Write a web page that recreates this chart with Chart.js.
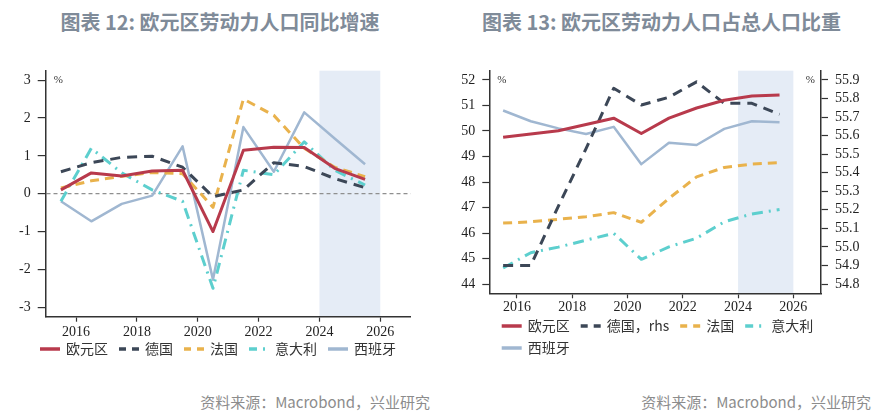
<!DOCTYPE html>
<html>
<head>
<meta charset="utf-8">
<script src="https://cdn.jsdelivr.net/npm/chart.js@4.4.1/dist/chart.umd.min.js"></script>
<style>
  body { margin: 0; background: #fff; width: 882px; height: 417px; position: relative; overflow: hidden;
         font-family: "Noto Sans CJK SC", "Noto Sans", sans-serif; }
  .title { position: absolute; top: 8px; height: 28px; line-height: 28px; font-size: 20px; font-weight: bold;
           color: #7f8b99; text-align: center; white-space: nowrap; }
  .source { position: absolute; top: 391px; font-size: 15px; line-height: 22px; color: #8c8c8c;
            text-align: right; white-space: nowrap; }
  canvas { position: absolute; top: 40px; }
</style>
</head>
<body>
<div class="title" style="left:0;width:440px">图表 12: 欧元区劳动力人口同比增速</div>
<div class="title" style="left:441px;width:441px">图表 13: 欧元区劳动力人口占总人口比重</div>
<canvas id="growthChart" width="440" height="330" style="left:0"></canvas>
<canvas id="shareChart" width="441" height="330" style="left:441px"></canvas>
<div class="source" style="left:0;width:430px">资料来源：Macrobond，兴业研究</div>
<div class="source" style="left:441px;width:430px">资料来源：Macrobond，兴业研究</div>

<script>
// ==============================
// データ
// ==============================
const YEARS = [2015.5, 2016.5, 2017.5, 2018.5, 2019.5, 2020.5, 2021.5, 2022.5, 2023.5, 2024.5, 2025.5];
const X_TICKS = [2016, 2018, 2020, 2022, 2024, 2026];
const FORECAST = [2024, 2026];

// 图表12 劳动力人口同比 (%)
const EA_GROWTH = [0.1, 0.55, 0.47, 0.6, 0.62, -1.0, 1.15, 1.23, 1.22, 0.67, 0.38];
const DE_GROWTH = [0.58, 0.82, 0.96, 0.99, 0.7, -0.08, 0.1, 0.82, 0.72, 0.4, 0.16];
const FR_GROWTH = [0.15, 0.34, 0.46, 0.56, 0.53, -0.36, 2.5, 2.07, 1.2, 0.7, 0.45];
const IT_GROWTH = [-0.2, 1.2, 0.55, 0.1, -0.2, -2.5, 0.62, 0.5, 1.37, 0.62, 0.23];
const ES_GROWTH = [-0.2, -0.73, -0.27, -0.05, 1.25, -2.27, 1.76, 0.58, 2.15, 1.46, 0.78];
const GROWTH_TICKS = [-3, -2, -1, 0, 1, 2, 3];

// 图表13 劳动力人口占总人口比重 (%)
const EA_SHARE = [49.75, 49.88, 50.01, 50.25, 50.5, 49.9, 50.5, 50.9, 51.2, 51.37, 51.41];
const DE_SHARE = [54.9, 54.9, 55.22, 55.53, 55.855, 55.765, 55.807, 55.89, 55.774, 55.774, 55.715];
const FR_SHARE = [46.39, 46.44, 46.54, 46.64, 46.8, 46.42, 47.36, 48.2, 48.57, 48.7, 48.76];
const IT_SHARE = [44.63, 45.23, 45.45, 45.72, 45.99, 44.97, 45.46, 45.8, 46.44, 46.75, 46.92];
const ES_SHARE = [50.8, 50.38, 50.1, 49.88, 50.16, 48.7, 49.54, 49.45, 50.08, 50.38, 50.34];
const SHARE_TICKS = [44, 45, 46, 47, 48, 49, 50, 51, 52];
const RHS_TICKS = [54.8, 54.9, 55.0, 55.1, 55.2, 55.3, 55.4, 55.5, 55.6, 55.7, 55.8, 55.9];

// ==============================
// スタイル
// ==============================
const AXIS = "#333";
const TICK_FONT = { family: "'Liberation Serif', 'DejaVu Serif', serif", size: 14 };

const STYLES = {
    ea: { color: "#b83a4c", width: 3, dash: [], legendDash: [] },
    de: { color: "#3c4757", width: 3, dash: [10, 7], legendDash: [7, 6] },
    fr: { color: "#e9b24c", width: 3, dash: [9, 6], legendDash: [7, 6] },
    it: { color: "#5dcfce", width: 3, dash: [11, 6, 2, 6], legendDash: [8, 6, 2, 6] },
    es: { color: "#a0b7d1", width: 2.5, dash: [], legendDash: [] }
};

function line(label, values, style, axis) {
    return {
        label,
        data: YEARS.map((x, i) => ({ x, y: values[i] })),
        yAxisID: axis || "y",
        borderColor: style.color,
        backgroundColor: style.color,
        borderWidth: style.width,
        borderDash: style.dash,
        legendDash: style.legendDash,
        borderJoinStyle: "round",
        pointRadius: 0,
        tension: 0
    };
}

const fixedTicks = list => scale => { scale.ticks = list.map(v => ({ value: v })); };

function xScale(pad) {
    return {
        type: "linear",
        min: 2015,
        max: 2027,
        afterBuildTicks: fixedTicks(X_TICKS),
        afterFit: s => { s.height = 24; },
        ticks: { font: TICK_FONT, color: "#222", padding: pad, maxRotation: 0, autoSkip: false,
                 callback: v => String(v) },
        grid: { drawOnChartArea: false, drawTicks: true, tickLength: 5, tickColor: AXIS, tickWidth: 1.2 },
        border: { color: AXIS, width: 1.5 }
    };
}

// ==============================
// プラグイン
// ==============================
const shadePlugin = {
    id: "shade",
    beforeDraw(chart) {
        const { ctx, chartArea, scales } = chart;
        const x0 = scales.x.getPixelForValue(FORECAST[0]);
        const x1 = scales.x.getPixelForValue(FORECAST[1]);
        ctx.save();
        ctx.fillStyle = "#e5ecf6";
        ctx.fillRect(x0, chartArea.top, x1 - x0, chartArea.bottom - chartArea.top);
        ctx.restore();
    }
};

const pctPlugin = {
    id: "pct",
    afterDraw(chart, args, opts) {
        const { ctx, chartArea } = chart;
        ctx.save();
        ctx.font = "11px 'Liberation Serif', serif";
        ctx.fillStyle = "#333";
        ctx.textBaseline = "middle";
        ctx.textAlign = "left";
        ctx.fillText("%", chartArea.left + 8, chartArea.top + 9);
        if (opts.right) {
            ctx.textAlign = "right";
            ctx.fillText("%", chartArea.right - 6, chartArea.top + 9);
        }
        ctx.restore();
    }
};

// 凡例（線サンプル + テキスト、左寄せで折り返し）
const legendPlugin = {
    id: "lineLegend",
    afterDraw(chart, args, opts) {
        const { ctx } = chart;
        ctx.save();
        ctx.font = "14px 'Noto Sans CJK SC', sans-serif";
        ctx.textBaseline = "middle";
        ctx.textAlign = "left";
        let x = opts.x;
        let y = opts.y;
        chart.data.datasets.forEach(ds => {
            const w = 20 + 6 + ctx.measureText(ds.label).width;
            if (x > opts.x && x + w > opts.maxX) {
                x = opts.x;
                y += opts.rowHeight;
            }
            ctx.strokeStyle = ds.borderColor;
            ctx.lineWidth = 3.5;
            ctx.setLineDash(ds.legendDash);
            ctx.beginPath();
            ctx.moveTo(x, y);
            ctx.lineTo(x + 20, y);
            ctx.stroke();
            ctx.setLineDash([]);
            ctx.fillStyle = "#333";
            ctx.fillText(ds.label, x + 26, y);
            x += w + 11;
        });
        ctx.restore();
    }
};

// ==============================
// 图表12
// ==============================
new Chart(document.getElementById("growthChart"), {
    type: "line",
    data: {
        datasets: [
            line("欧元区", EA_GROWTH, STYLES.ea),
            line("德国", DE_GROWTH, STYLES.de),
            line("法国", FR_GROWTH, STYLES.fr),
            line("意大利", IT_GROWTH, STYLES.it),
            line("西班牙", ES_GROWTH, STYLES.es)
        ]
    },
    options: {
        responsive: false,
        animation: false,
        layout: { padding: { left: 0, top: 30.7, right: 29.3, bottom: 29.3 } },
        scales: {
            x: xScale(2),
            y: {
                min: -3.25,
                max: 3.25,
                afterBuildTicks: fixedTicks(GROWTH_TICKS),
                afterFit: s => { s.width = 45.7; },
                ticks: { font: TICK_FONT, color: "#222", padding: 7 },
                grid: {
                    drawOnChartArea: true,
                    tickLength: 8,
                    tickColor: AXIS,
                    tickWidth: 1.2,
                    color: c => (c.tick && c.tick.value === 0 ? "#8f8f8f" : "rgba(0,0,0,0)"),
                    lineWidth: 1.2
                },
                border: { color: AXIS, width: 1.5, dash: [4, 3] }
            }
        },
        plugins: {
            legend: { display: false },
            tooltip: { enabled: false },
            pct: { right: false },
            lineLegend: { x: 40, y: 309, maxX: 440, rowHeight: 22 }
        }
    },
    plugins: [shadePlugin, pctPlugin, legendPlugin]
});

// ==============================
// 图表13
// ==============================
new Chart(document.getElementById("shareChart"), {
    type: "line",
    data: {
        datasets: [
            line("欧元区", EA_SHARE, STYLES.ea),
            line("德国，rhs", DE_SHARE, STYLES.de, "y2"),
            line("法国", FR_SHARE, STYLES.fr),
            line("意大利", IT_SHARE, STYLES.it),
            line("西班牙", ES_SHARE, STYLES.es)
        ]
    },
    options: {
        responsive: false,
        animation: false,
        layout: { padding: { left: 0, top: 30.7, right: 0, bottom: 52.7 } },
        scales: {
            x: xScale(1),
            y: {
                min: 43.64,
                max: 52.36,
                afterBuildTicks: fixedTicks(SHARE_TICKS),
                afterFit: s => { s.width = 48.3; },
                ticks: { font: TICK_FONT, color: "#222", padding: 7 },
                grid: { drawOnChartArea: false, tickLength: 7, tickColor: AXIS, tickWidth: 1.2 },
                border: { color: AXIS, width: 1.5 }
            },
            y2: {
                position: "right",
                min: 54.75,
                max: 55.95,
                afterBuildTicks: fixedTicks(RHS_TICKS),
                afterFit: s => { s.width = 61; },
                ticks: { font: TICK_FONT, color: "#222", padding: 7, callback: v => v.toFixed(1) },
                grid: { drawOnChartArea: false, tickLength: 7, tickColor: AXIS, tickWidth: 1.2 },
                border: { color: AXIS, width: 1.5 }
            }
        },
        plugins: {
            legend: { display: false },
            tooltip: { enabled: false },
            pct: { right: true },
            lineLegend: { x: 60.7, y: 286, maxX: 380, rowHeight: 22 }
        }
    },
    plugins: [shadePlugin, pctPlugin, legendPlugin]
});
</script>
</body>
</html>
